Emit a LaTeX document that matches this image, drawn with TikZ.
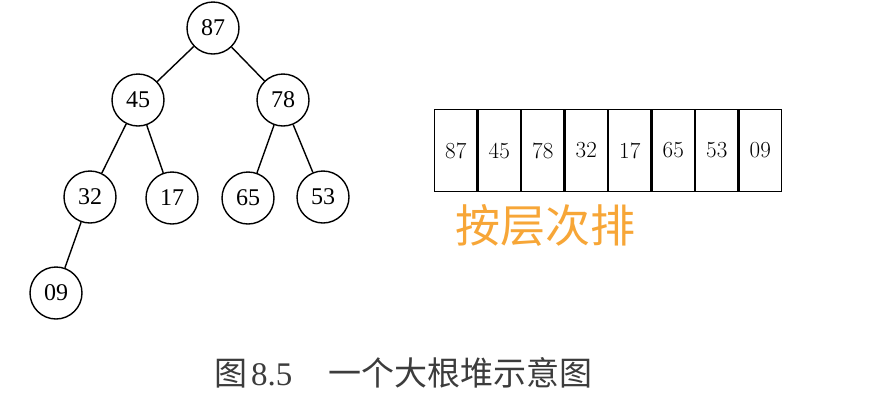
\documentclass[tikz,border=0pt]{standalone}
\usepackage{fontspec}
\newfontfamily\cjk{Noto Sans CJK SC}
\newfontfamily\treefont{Liberation Serif}
\begin{document}
\begin{tikzpicture}[x=1pt,y=-1pt,
  tnode/.style={circle,draw,line width=1.4pt,minimum size=52pt,inner sep=0pt,font=\treefont\fontsize{24}{24}\selectfont},
  edge/.style={line width=1.4pt},
  cell/.style={draw,line width=1.4pt,minimum width=42.1pt,minimum height=81.6pt,inner sep=0pt,anchor=west,font=\fontsize{23}{23}\selectfont}]
\useasboundingbox (0,0) rectangle (889,408);
\fill[white] (0,0) rectangle (889,408);
\node[tnode] (n87) at (213,28) {87};
\node[tnode] (n45) at (138,100) {45};
\node[tnode] (n78) at (283,100) {78};
\node[tnode] (n32) at (90,197) {32};
\node[tnode] (n17) at (172,198) {17};
\node[tnode] (n65) at (248,198) {65};
\node[tnode] (n53) at (323,197) {53};
\node[tnode] (n09) at (56,293) {09};
\draw[edge] (n87) -- (n45);
\draw[edge] (n87) -- (n78);
\draw[edge] (n45) -- (n32);
\draw[edge] (n45) -- (n17);
\draw[edge] (n78) -- (n65);
\draw[edge] (n78) -- (n53);
\draw[edge] (n32) -- (n09);
\node[cell] (c1) at (434,150.5) {87};
\node[cell] (c2) at (c1.east) {45};
\node[cell] (c3) at (c2.east) {78};
\node[cell] (c4) at (c3.east) {32};
\node[cell] (c5) at (c4.east) {17};
\node[cell] (c6) at (c5.east) {65};
\node[cell] (c7) at (c6.east) {53};
\node[cell] (c8) at (c7.east) {09};
\node[anchor=west,inner sep=0pt,text={rgb,255:red,247;green,166;blue,55},font=\cjk\fontsize{45}{45}\selectfont] (lbl) at (455,225) {按层次排};
\node[anchor=west,inner sep=0pt,text={rgb,255:red,60;green,60;blue,60},font=\fontsize{33}{33}\selectfont] (cap) at (214,373) {{\cjk 图}\hspace{4pt}{\treefont 8.5}\hspace{36pt}{\cjk 一个大根堆示意图}};
\end{tikzpicture}
\end{document}
